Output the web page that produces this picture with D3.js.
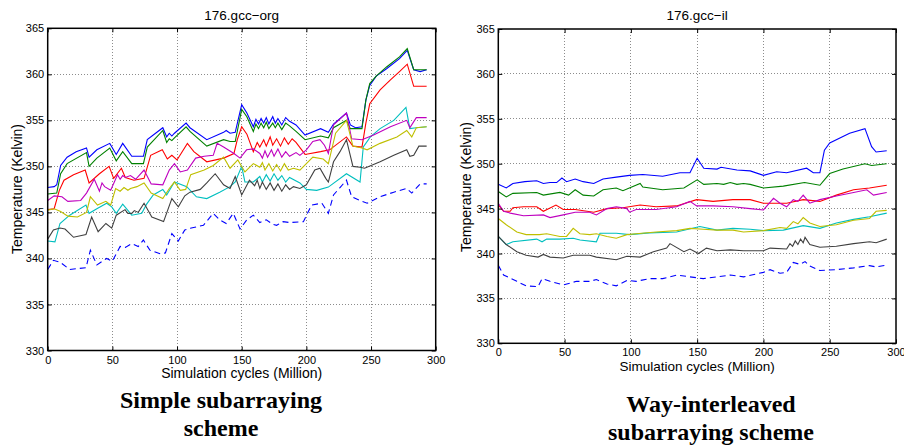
<!DOCTYPE html>
<html>
<head>
<meta charset="utf-8">
<script src="https://cdn.jsdelivr.net/npm/d3@7"></script>
<style>
  body { margin: 0; background: #fff; }
  svg { display: block; }
  .tick text { font-family: "Liberation Sans", Arial, sans-serif; }
</style>
</head>
<body>
<div id="chart"></div>
<script>
// ---- data: [simulation cycles (million), temperature (K)] ----
const xTicks = [0, 50, 100, 150, 200, 250, 300];
const yTicks = [330, 335, 340, 345, 350, 355, 360, 365];

// 176.gcc-org  (simple subarraying)
const orgBlue = [[0,347.7],[5,347.8],[7,348],[10,350.1],[15,351],[22,351.6],[30,352.0],[32,351],[38,351.8],[48,352.5],[53,351.3],[58,352.5],[65,351.1],[74,351.1],[77,352.9],[89,354.2],[92,353.2],[94,353.6],[96,353.3],[98,353.6],[107,354.7],[110,354.2],[123,352.9],[136,353.7],[138,353.9],[141,353.6],[145,353.7],[150,356.7],[154,355.8],[159,354.3],[161,355.1],[163,354.6],[165,355.2],[167,354.7],[169,355.3],[171,354.6],[174,355.4],[176,354.7],[178,355.2],[181,354.5],[184,355.3],[187,354.9],[192,354.5],[199,353.4],[211,354.1],[217,353.7],[221,354.6],[231,355.8],[234,354.5],[238,354.2],[243,354.3],[246,357.2],[249,358.8],[254,359.8],[262,360.6],[272,361.7],[278,362.6],[283,360.5],[288,360.3],[293,360.5]];
const orgGreen = [[0,347],[7,347.1],[10,349.2],[15,350.3],[30,351.5],[32,350],[38,350.9],[48,352],[53,350.6],[58,351.6],[65,350.3],[74,350.3],[77,352.1],[89,353.9],[92,352.6],[94,353],[96,352.8],[98,353.1],[107,354.3],[110,353.8],[123,352.2],[136,352.9],[141,352.7],[145,352.7],[150,356.2],[154,355.4],[159,353.8],[161,354.6],[163,354.1],[165,354.7],[167,354.2],[169,354.8],[171,354.1],[174,354.7],[176,354.2],[178,354.7],[181,354.0],[184,354.7],[187,354.4],[192,353.8],[199,352.9],[211,353.3],[217,353.1],[221,354.2],[231,355],[234,354.1],[243,354.1],[246,357.2],[249,359],[254,359.8],[262,360.8],[272,361.9],[278,362.8],[283,360.5],[293,360.5]];
const orgRed = [[0,345.3],[5,345.4],[9,347.4],[12.6,348.5],[20,349.1],[29,349.6],[32,348.2],[40,349.2],[47.5,350],[51,348.7],[57,349.8],[60,348.8],[66.7,348.5],[74.5,348.7],[79.6,351.2],[88.6,351.8],[92.5,350.8],[96,351.2],[100,350.7],[108,352.5],[113,351.6],[123,350.5],[136,350.9],[144,351.4],[146.6,352.9],[150,354.3],[154,353.5],[159,351.6],[162,352.6],[164,352.1],[167,352.9],[169,352.2],[172,353.2],[174,352.3],[177,353.0],[180,352.2],[183,353.1],[186,352.4],[189,353.0],[192,352.6],[199,351.3],[211,351.6],[218,351.8],[231,353.2],[236,352.2],[243,352.1],[246,354.7],[249,356.8],[257,358.3],[265,359.4],[272,360.3],[278,361.1],[283,358.7],[293,358.7]];
const orgCyan = [[0,341.9],[5.6,341.8],[9.5,343.8],[17,344.7],[29.6,345.8],[32,344.9],[38,345.4],[45.6,346.0],[49.5,345.6],[53,344.9],[58,345.9],[65,344.7],[72.7,344.9],[76.5,345.9],[81.6,346.9],[89,347.5],[92,346.9],[98,348.3],[107.5,347.8],[115,346.7],[123,346.5],[133,347.2],[141,347.8],[145,348.3],[150,350.0],[152.5,348.3],[159,348.3],[164,348.9],[166,348.3],[169,349.1],[172,348.4],[175,349.2],[178,348.5],[181,349.0],[184,348.3],[187,348.8],[195,348.2],[200,347.5],[208,347.4],[217,347.75],[231,349.2],[241.5,348.3],[244,352.1],[249.5,353.2],[257,354.1],[267.6,355.0],[277,356.4],[280,354.1],[285,354.2],[293,354.3]];
const orgMagenta = [[0,346.3],[5,346.8],[11,346.7],[15.6,346.2],[25.5,346.3],[30,347.1],[36,348.6],[40,347.3],[42,348.2],[44,347.8],[48.7,347.4],[54,349.1],[56,348.6],[58,349.0],[60,348.8],[64,349.0],[68,348.6],[74.5,349.6],[80,348.1],[89,348.0],[94,349.6],[98,350.3],[102.5,349.4],[108,349.6],[114.4,350.9],[121,351.1],[128,351.2],[131,352.5],[136,352.1],[144,351.4],[148.7,350.9],[153.8,351.8],[159,351.9],[164,351.4],[166,350.9],[168,351.7],[170,351.0],[173,351.8],[175,351.1],[178,351.9],[181,351.0],[184,351.6],[187,351.1],[192,351.5],[195,351.2],[200,351.8],[205,352.7],[210.5,352.9],[214,352.3],[217,351.4],[221,354.5],[231,355.8],[235,353.0],[243,352.9],[252,353.4],[265,354.3],[277.6,355.0],[280,354.2],[285,355.3],[293,355.3]];
const orgYellow = [[0,345.25],[5,345.4],[10,345.1],[15.6,344.6],[23,344.5],[30,345],[33,346.7],[38.5,345.8],[45,346.2],[48.7,345.8],[52.5,347.6],[56,347.3],[59,347.7],[62,347.4],[64,347.6],[69,347.8],[74.5,348.2],[80,347.1],[89,346.5],[94,347.6],[98,348.3],[102.5,347.4],[106.7,347.5],[110.6,349.1],[121,349.6],[128,350.1],[136,351],[141,349.8],[147,350.7],[152.5,349.4],[159,350.3],[164,349.9],[166,350.4],[168,349.6],[171,350.3],[174,349.5],[177,350.2],[180,349.5],[183,350.3],[186,349.6],[190,349.8],[195,349.6],[200,350.3],[205,351.0],[213,350.8],[217,350.3],[222.6,353.6],[231,355.0],[236,352.2],[243,352.0],[247,351.8],[257,352.5],[270,353.2],[277.6,353.9],[281.5,353.2],[285,354.2],[293,354.3]];
const orgBlack = [[0,342.1],[4.4,343.1],[9.5,343.3],[13.4,343.2],[20,342.3],[29.6,342.6],[34,344.5],[39,342.9],[45,343.8],[49.5,343.3],[53,344.7],[59.8,345.3],[62,344.9],[65,344.9],[67,345.2],[70,345.0],[74.5,346.0],[80.5,344.5],[89.6,344.0],[96,346.5],[101,345.6],[106,346.8],[110,347.2],[118,347.5],[123,348.2],[129.5,349.2],[136,348.0],[141,347.6],[145,348.9],[150,346.9],[156,348.5],[160,347.9],[162,348.5],[164,347.6],[166,348.3],[169,347.5],[172,348.2],[175,347.4],[178,348.1],[181,347.3],[184,348.0],[187,347.5],[190,347.8],[195,347.6],[200,348.0],[206.5,349.6],[210.5,349.8],[215,348.7],[217,348.3],[221,350.5],[226,351.6],[231,352.9],[236,350.0],[241.5,349.9],[245,349.8],[257,350.5],[267.6,351.2],[277.6,351.8],[280,351.1],[283,351.2],[287,352.2],[293,352.2]];
const orgDashed = [[0,338.8],[4.4,339.8],[9.5,339.6],[17,338.8],[29.6,339.0],[33,340.9],[38,339.3],[45.6,340.0],[50,339.7],[56,341.3],[60,341.2],[65,341.6],[70,341.3],[74,342.0],[79,340.9],[87,340.5],[91,340.6],[96,342.7],[101,341.9],[106,343.1],[111,343.3],[120.4,343.6],[128,344.9],[133,344.2],[138,343.8],[143.5,344.9],[148.7,343.2],[154,344.2],[159,344.7],[164,343.9],[169,344.2],[174,343.7],[177,343.6],[182,344.0],[187,343.9],[197.7,344.0],[204,345.8],[212,346.0],[217,344.9],[221,346.9],[226,347.7],[231,348.5],[235,346.7],[243,346.2],[247,346.0],[257,346.7],[267.6,347.2],[277.6,347.6],[281.5,347.1],[288,348.1],[293,348.1]];

// 176.gcc-il  (way-interleaved subarraying)
const ilBlue = [[0,347.7],[6,347.3],[11,347.8],[20,348.0],[29,348.1],[34,347.8],[39,347.9],[44,347.9],[48,348.4],[51.5,348.0],[58,348.3],[64,348.0],[72,347.8],[79,348.3],[89,348.5],[99,348.7],[109,348.8],[124,348.6],[137,349.0],[144.6,349.0],[150,350.6],[155,349.5],[165,349.4],[168,349.6],[180,349.3],[190,349.2],[200,348.7],[210,349.1],[217.5,349.0],[232.6,349.5],[237.6,349.0],[242.6,349.0],[246,351.5],[250,352.3],[265,353.4],[276.6,353.9],[281.6,351.9],[285,351.3],[293,351.45]];
const ilGreen = [[0,346.9],[6,346.3],[11,346.7],[29,346.8],[34,346.5],[46.5,346.8],[53,346.5],[58,347.1],[64,346.5],[72,346.4],[79,347.1],[89,347.3],[94,347.0],[107,347.8],[109,347.4],[124,347.1],[140,347.3],[150,348.2],[155,347.7],[165,347.8],[170,347.7],[175,347.9],[180,347.7],[185,347.8],[190,347.7],[200,347.3],[215,347.5],[231,347.9],[242.6,347.6],[250,348.9],[260,349.4],[276.6,350.0],[281.6,349.8],[293,350.0]];
const ilRed = [[0,345.4],[4,344.7],[9,344.7],[11,345.1],[19,345.2],[29,345.2],[34,344.7],[43.5,345.4],[49,344.9],[58,344.9],[72,344.6],[82,345.0],[94,345.1],[107,345.4],[119,345.2],[134.5,345.3],[149.6,346.0],[162,345.8],[177,346.0],[190,346.0],[200,345.6],[217.5,345.6],[230,346.0],[242.6,345.8],[255,346.5],[268,347.1],[280,347.3],[293,347.6]];
const ilCyan = [[0,341.9],[6,341.0],[11,341.3],[29,341.6],[33,341.3],[36.5,341.6],[46.5,341.6],[56.5,341.7],[61.6,341.5],[74,341.3],[76.7,342.25],[89,342.25],[99,342.1],[114,342.3],[134.5,342.4],[152,343.0],[165,342.6],[177,342.8],[190,342.7],[200,342.55],[215,342.6],[230,343.1],[242.6,342.8],[255,343.4],[268,343.8],[280,344.1],[293,344.5]];
const ilMagenta = [[0,345.6],[4,344.7],[9,344.5],[19,344.2],[34,344.3],[39,344.0],[49,344.3],[58,344.6],[69,344.6],[74,344.3],[82,345.0],[89,345.2],[97,345.0],[99,344.6],[104,344.9],[119,344.9],[134.5,345.2],[144.6,345.8],[149.6,345.3],[162,345.3],[177,345.2],[190,345.0],[200,344.85],[207.6,346.15],[212.5,345.6],[217.5,345.2],[222.5,346.0],[226,345.8],[230,346.5],[235,345.6],[242.6,346.0],[255,346.4],[268,346.8],[278,347.1],[283,346.5],[293,346.8]];
const ilYellow = [[0,343.9],[6,343.2],[14,342.4],[21,342.1],[31,342.1],[36.5,342.2],[46.5,341.9],[51.5,341.9],[56.5,342.8],[61.6,342.2],[69,342.1],[74,342.2],[82,341.9],[89,341.7],[97,342.1],[104,342.2],[119,342.4],[134.5,342.55],[144.6,342.8],[154.6,342.7],[165,342.6],[177,342.6],[185,342.4],[200,342.55],[212.5,342.9],[217.5,342.8],[222.5,343.55],[226,343.3],[230,344.0],[235,343.4],[242.6,343.0],[255,343.2],[268,343.7],[280,343.9],[285,344.7],[293,344.8]];
const ilBlack = [[0,341.9],[6,341.0],[14,340.2],[21,339.8],[30,339.6],[34,339.9],[39,339.6],[49,339.5],[56.5,339.8],[69,339.8],[74,339.6],[89,339.3],[97,339.7],[107,339.6],[117,340.2],[127,340.6],[129.5,341.1],[140,340.2],[144.6,340.5],[151,340.0],[157,340.6],[165,340.3],[175,340.4],[185,340.3],[200,340.3],[205,340.6],[217.5,340.5],[220,341.1],[222,340.8],[224,341.4],[226,341.0],[228,341.6],[230,341.2],[231.4,341.8],[235,341.0],[242.6,340.7],[255,340.8],[268,341.1],[280,341.3],[285,341.2],[293,341.6]];
const ilDashed = [[0,338.7],[4,337.6],[14,336.9],[21,336.4],[30,336.3],[33,337.2],[39,336.9],[49,336.5],[59,336.9],[69,336.9],[74,337.1],[82,336.6],[89,336.4],[97,337.0],[104,336.9],[114,337.2],[124,337.2],[134.5,337.6],[144.6,337.4],[154.6,337.2],[165,337.4],[175,337.6],[185,337.4],[200,337.9],[205,338.2],[212.5,337.8],[217.5,337.9],[222.5,339.0],[227.5,338.8],[231.4,339.1],[235,338.6],[242.6,338.1],[255,338.2],[268,338.4],[280,338.65],[285,338.5],[293,338.7]];

// MATLAB default line order
const seriesColors = ["#0000ff", "#008000", "#ff0000", "#00bfbf", "#bf00bf", "#bfbf00", "#404040", "#0000ff"];

const panels = [
  { title: "176.gcc\u2212org", series: [orgBlue, orgGreen, orgRed, orgCyan, orgMagenta, orgYellow, orgBlack, orgDashed],
    left: 47.7, right: 435.7, top: 28.3, bottom: 350.5,
    yLabelX: 21.5, yLabelY: 189, xLabelY: 378, xLabelSize: 14, xTickY: 13,
    caption: ["Simple subarraying", "scheme"], capX: 221, capY: [408, 436] },
  { title: "176.gcc\u2212il", series: [ilBlue, ilGreen, ilRed, ilCyan, ilMagenta, ilYellow, ilBlack, ilDashed],
    left: 498.3, right: 896, top: 29, bottom: 343.3,
    yLabelX: 471, yLabelY: 187, xLabelY: 370.5, xLabelSize: 13.5, xTickY: 12.8,
    caption: ["Way-interleaved", "subarraying scheme"], capX: 711, capY: [412, 440] }
];

const width = 904, height = 447;
const sans = "'Liberation Sans', Arial, Helvetica, sans-serif";
const serif = "'Liberation Serif', 'Times New Roman', Times, serif";

const svg = d3.select("#chart").append("svg")
  .attr("width", width)
  .attr("height", height);

panels.forEach(p => {
  const x = d3.scaleLinear().domain([0, 300]).range([p.left, p.right]);
  const y = d3.scaleLinear().domain([330, 365]).range([p.bottom, p.top]);
  const g = svg.append("g");

  // dotted grid
  g.append("g")
    .selectAll("line.gx")
    .data(xTicks.slice(1, -1))
    .join("line")
    .attr("x1", d => x(d)).attr("x2", d => x(d))
    .attr("y1", p.top).attr("y2", p.bottom)
    .attr("stroke", "#8c8c8c").attr("stroke-width", 1)
    .attr("stroke-dasharray", "1,2")
    .attr("shape-rendering", "crispEdges");
  g.append("g")
    .selectAll("line.gy")
    .data(yTicks.slice(1, -1))
    .join("line")
    .attr("x1", p.left).attr("x2", p.right)
    .attr("y1", d => y(d)).attr("y2", d => y(d))
    .attr("stroke", "#8c8c8c").attr("stroke-width", 1)
    .attr("stroke-dasharray", "1,2")
    .attr("shape-rendering", "crispEdges");

  // lines
  const line = d3.line().x(d => x(d[0])).y(d => y(d[1]));
  p.series.forEach((s, i) => {
    g.append("path")
      .datum(s)
      .attr("fill", "none")
      .attr("stroke", seriesColors[i])
      .attr("stroke-width", 1.1)
      .attr("stroke-dasharray", i === 7 ? "6,4" : null)
      .attr("d", line);
  });

  // axes with inward ticks on all four sides
  const xAxis = d3.axisBottom(x).tickValues(xTicks).tickSizeInner(-4).tickSizeOuter(0).tickPadding(0);
  const yAxis = d3.axisLeft(y).tickValues(yTicks).tickSizeInner(-4).tickSizeOuter(0).tickPadding(3.5);

  const gx = g.append("g")
    .attr("transform", "translate(0," + p.bottom + ")")
    .call(xAxis);
  gx.selectAll("text").attr("y", p.xTickY).attr("dy", null);

  g.append("g")
    .attr("transform", "translate(" + p.left + ",0)")
    .call(yAxis);

  g.append("g")
    .attr("transform", "translate(0," + p.top + ")")
    .call(d3.axisTop(x).tickValues(xTicks).tickSizeInner(-4).tickSizeOuter(0).tickFormat(""));
  g.append("g")
    .attr("transform", "translate(" + p.right + ",0)")
    .call(d3.axisRight(y).tickValues(yTicks).tickSizeInner(-4).tickSizeOuter(0).tickFormat(""));

  g.selectAll(".domain").remove();
  g.selectAll(".tick line").attr("stroke", "#000").attr("stroke-width", 1);
  g.selectAll(".tick text")
    .attr("fill", "#000")
    .style("font-size", "11px")
    .style("font-family", sans);

  // box
  g.append("rect")
    .attr("x", p.left).attr("y", p.top)
    .attr("width", p.right - p.left).attr("height", p.bottom - p.top)
    .attr("fill", "none").attr("stroke", "#000").attr("stroke-width", 1.5);

  // titles and labels
  g.append("text")
    .attr("x", (p.left + p.right) / 2).attr("y", 20)
    .attr("text-anchor", "middle")
    .style("font-family", sans).style("font-size", "13.5px")
    .text(p.title);

  g.append("text")
    .attr("transform", "translate(" + p.yLabelX + "," + p.yLabelY + ") rotate(-90)")
    .attr("text-anchor", "middle")
    .style("font-family", sans).style("font-size", "14px")
    .text("Temperature (Kelvin)");

  g.append("text")
    .attr("x", (p.left + p.right) / 2).attr("y", p.xLabelY)
    .attr("text-anchor", "middle")
    .style("font-family", sans).style("font-size", p.xLabelSize + "px")
    .text("Simulation cycles (Million)");

  p.caption.forEach((c, i) => {
    g.append("text")
      .attr("x", p.capX).attr("y", p.capY[i])
      .attr("text-anchor", "middle")
      .style("font-family", serif).style("font-size", "24px").style("font-weight", "bold")
      .text(c);
  });
});
</script>
</body>
</html>
